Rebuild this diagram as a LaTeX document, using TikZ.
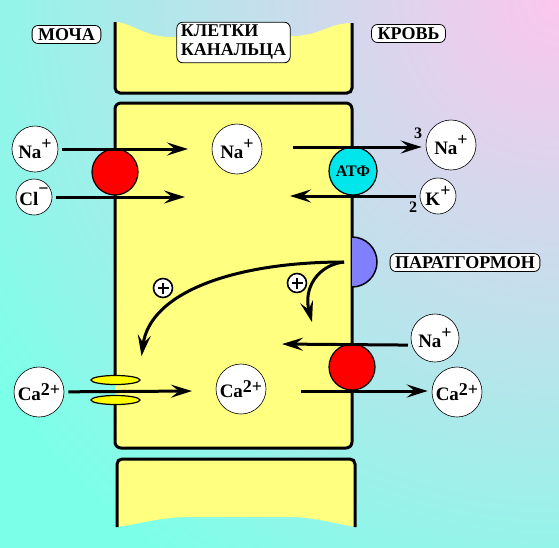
\documentclass[tikz,border=0pt]{standalone}
\usepackage{fontspec}
\setmainfont{Liberation Serif}
\usepackage{xcolor}
\usepackage{tikz}
\usetikzlibrary{arrows.meta, positioning, shapes.geometric}
\definecolor{bgcyan}{RGB}{124,255,232}
\definecolor{bgpink}{RGB}{252,198,238}
\definecolor{cellyellow}{RGB}{255,255,128}
\definecolor{chanyellow}{RGB}{255,255,0}
\definecolor{atfcyan}{RGB}{0,230,235}
\definecolor{recblue}{RGB}{128,128,255}
\pgfdeclareradialshading{bgglow}{\pgfpointorigin}{color(0bp)=(bgpink); color(12.5bp)=(bgcyan); color(50bp)=(bgcyan)}
\tikzstyle{arrow}   = [line width=3pt, -{Stealth[length=21pt,width=13pt,inset=8pt]}, shorten <=4pt, shorten >=4pt]
\tikzstyle{ion}     = [circle, draw, fill=white, inner sep=0pt, line width=0.6pt, font=\bfseries\fontsize{19}{19}\selectfont]
\tikzstyle{tag}     = [rectangle, draw, fill=white, rounded corners=6pt, inner xsep=6pt, inner ysep=3pt, line width=0.8pt]
\tikzstyle{carrier} = [circle, draw, line width=1.2pt, inner sep=0pt, minimum size=46pt]
\tikzstyle{channel} = [ellipse, draw, fill=chanyellow, line width=1.2pt, inner sep=0pt, minimum width=49pt, minimum height=9pt]
\tikzstyle{plusmark}= [circle, draw, fill=white, line width=1.6pt, inner sep=0pt, minimum size=19pt,
  path picture={\draw[line width=1.6pt] ([xshift=4pt]path picture bounding box.west) -- ([xshift=-4pt]path picture bounding box.east)
                ([yshift=-4pt]path picture bounding box.north) -- ([yshift=4pt]path picture bounding box.south);}]
\tikzset{every node/.style={align=center, font=\bfseries\fontsize{18}{19}\selectfont}}
\newcommand{\ionsup}[3][0.5em]{#2\raisebox{#1}{\fontsize{18}{18}\selectfont #3}}

\begin{document}
\begin{tikzpicture}[x=1pt, y=1pt]
    % background
    \begin{scope}
        \clip (0,0) rectangle (559,-547);
        \shade[shading=bgglow] (559,0) circle[radius=1360];
    \end{scope}
    \useasboundingbox (0,0) rectangle (559,-547);

    % cells
    \fill[cellyellow, rounded corners=5pt] (352,-23) -- (352,-93) -- (115,-93) [sharp corners] -- (115,-22)
        .. controls (130,-22) and (145,-37) .. (170,-37) -- (295,-36) .. controls (320,-35) and (330,-23) .. (352,-23);
    \draw[line width=3pt, rounded corners=5pt] (115,-22) -- (115,-93) -- (352,-93) -- (352,-23);
    \draw[line width=3pt, fill=cellyellow, rounded corners=6pt] (115,-103) rectangle (352,-448);
    \fill[cellyellow, rounded corners=5pt] (117,-527) -- (117,-459) -- (355,-459) [sharp corners] -- (355,-527)
        .. controls (330,-522) and (310,-517) .. (290,-517) -- (190,-517) .. controls (160,-517) and (140,-524) .. (117,-527);
    \draw[line width=3pt, rounded corners=5pt] (117,-527) -- (117,-459) -- (355,-459) -- (355,-527);

    % labels
    \node (urine)  at (66.5,-34.5)  [tag] {МОЧА};
    \node (tubule) at (233.5,-42.5) [tag, align=left, inner xsep=4pt] {КЛЕТКИ\\КАНАЛЬЦА};
    \node (blood)  at (408.5,-33.5) [tag] {КРОВЬ};
    \node (pth)    at (465,-262.5)  [tag, inner xsep=5pt] {ПАРАТГОРМОН};

    % carriers
    \fill[bgcyan] (111,-385) rectangle (115,-395);
    \fill[cellyellow] (115,-385) rectangle (119,-395);
    \node (symTop) at (115,-172) [carrier, fill=red] {};
    \node (atf)    at (353,-171) [carrier, fill=atfcyan, minimum size=48pt, font=\bfseries\fontsize{16}{16}\selectfont] {АТФ};
    \node (symBot) at (352,-367) [carrier, fill=red] {};
    \node (chanA)  at (115.5,-380) [channel] {};
    \node (chanB)  at (115.5,-400) [channel] {};
    \filldraw[fill=recblue, line width=1.5pt] (352,-237) arc[start angle=90, end angle=-90, radius=25];

    % ions
    \node (naL)  at (35,-149)  [ion, minimum size=46pt] {\ionsup{Na}{+}};
    \node (clL)  at (34,-197)  [ion, minimum size=36pt] {\ionsup[0.55em]{Cl}{−}};
    \node (naC)  at (237,-149) [ion, minimum size=50pt] {\ionsup{Na}{+}};
    \node (naR)  at (451,-145) [ion, minimum size=50pt] {\ionsup{Na}{+}};
    \node (kR)   at (438,-196) [ion, minimum size=36pt] {\ionsup{K}{+}};
    \node (naR2) at (435,-338) [ion, minimum size=48pt] {\ionsup{Na}{+}};
    \node (caL)  at (39,-392)  [ion, minimum size=50pt] {\ionsup[0.3em]{Ca}{2+}};
    \node (caC)  at (241,-389) [ion, minimum size=50pt] {\ionsup[0.3em]{Ca}{2+}};
    \node (caR)  at (457,-392) [ion, minimum size=50pt] {\ionsup[0.3em]{Ca}{2+}};
    \node (n3)   at (418,-133) [font=\bfseries\fontsize{16}{16}\selectfont] {3};
    \node (n2)   at (413,-207) [font=\bfseries\fontsize{16}{16}\selectfont] {2};
    \node (plA)  at (163,-288) [plusmark] {};
    \node (plB)  at (297,-283) [plusmark] {};

    % free ends
    \coordinate (naIn)   at (192,-149);
    \coordinate (clIn)   at (189,-197);
    \coordinate (naOut)  at (289,-147);
    \coordinate (kIn)    at (286,-196);
    \coordinate (naIn2)  at (278,-344);
    \coordinate (caIn)   at (196,-391);
    \coordinate (caOut)  at (297,-391);
    \coordinate (recIn)  at (344,-262);
    \coordinate (chanUp) at (141,-360);
    \coordinate (symUp)  at (313,-326);

    \draw [arrow] (naL)   -- (naIn);
    \draw [arrow] (clL)   -- (clIn);
    \draw [arrow] (naOut) -- (naR.west |- naOut);
    \draw [arrow] (kR)    -- (kIn);
    \draw [arrow] (naR2.197) -- (naIn2);
    \draw [arrow] (caL)   -- (caIn);
    \draw [arrow] (caOut) -- (caR.west |- caOut);
    \draw [arrow, shorten <=0pt] (recIn) .. controls (235,-262) and (150,-292) .. (chanUp);
    \draw [arrow, shorten <=0pt] (recIn) .. controls (318,-265) and (303,-288) .. (symUp);
\end{tikzpicture}
\end{document}
